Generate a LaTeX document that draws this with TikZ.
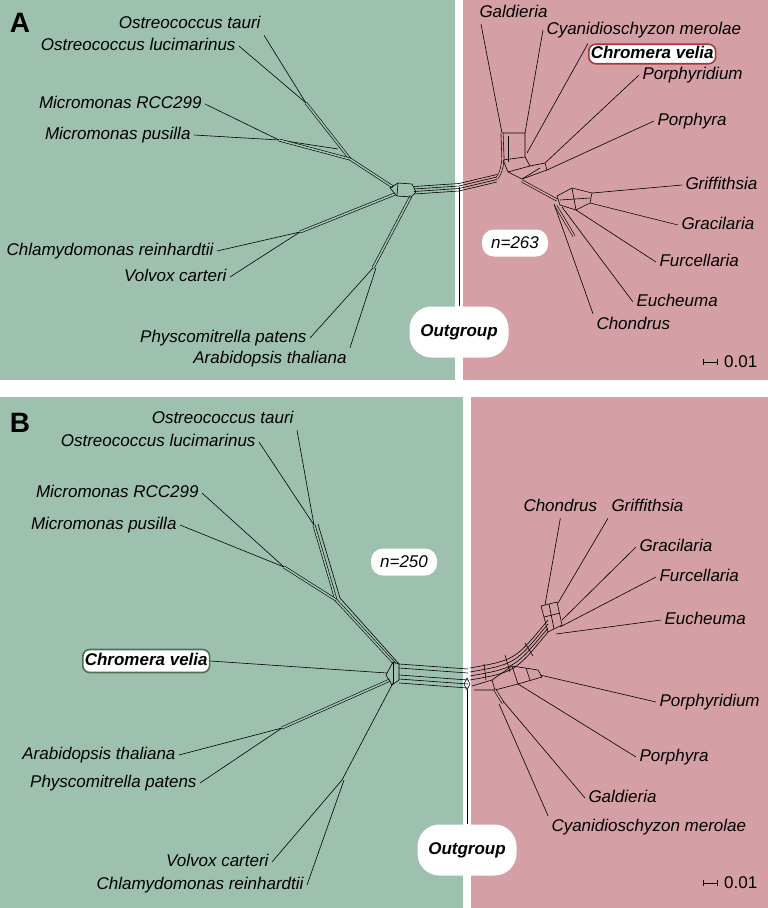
\documentclass[tikz,border=0pt]{standalone}
\usepackage{fontspec}
\setmainfont{Liberation Sans}
\usetikzlibrary{positioning}
\definecolor{gbg}{HTML}{9EC1AF}
\definecolor{rbg}{HTML}{D4A0A6}
\definecolor{cvred}{HTML}{A8373C}
\definecolor{cvgreen}{HTML}{4F6E52}
\tikzset{taxon/.style={font=\itshape\fontsize{17}{19}\selectfont, inner sep=1pt,
    outer sep=2.5pt, text height=12pt, text depth=3.5pt}}
\tikzset{net/.style={draw=black, line width=0.6pt}}

\begin{document}
\begin{tikzpicture}[x=1pt, y=-1pt,
    bandG/.style = {net, double=gbg, double distance=1.6pt},
    bandR/.style = {net, double=rbg, double distance=1.6pt},
    tag/.style = {fill=white, rounded corners=12pt, font=\itshape\fontsize{17}{19}\selectfont,
      minimum width=66pt, minimum height=27pt},
    outbox/.style = {fill=white, rounded corners=22pt, font=\bfseries\itshape\fontsize{17}{19}\selectfont,
      minimum width=99pt, minimum height=51pt},
    chrom/.style = {fill=white, line width=1.6pt, rounded corners=7pt, inner sep=2pt,
      font=\bfseries\itshape\fontsize{17}{19}\selectfont, text height=12pt, text depth=3.5pt},
    panel/.style = {font=\bfseries\fontsize{28}{30}\selectfont, inner sep=0pt},
    scalebar/.style = {draw=black, line width=0.6pt, |-|}]
  \useasboundingbox (0,0) rectangle (768,908);
  \fill[white] (0,0) rectangle (768,908);
  \fill[gbg] (0,0) rectangle (455,380);
  \fill[rbg] (463,0) rectangle (768,380);
  \fill[gbg] (0,397) rectangle (463,908);
  \fill[rbg] (471,397) rectangle (768,908);

  % ---------------- panel A
  \node[panel] at (20,23) {A};
  \node[taxon, anchor=east] (OtA) at (264,24) {Ostreococcus tauri};
  \node[taxon, anchor=east] (OlA) at (239,46) {Ostreococcus lucimarinus};
  \node[taxon, anchor=east] (MrA) at (205,104) {Micromonas RCC299};
  \node[taxon, anchor=east] (MpA) at (194,135) {Micromonas pusilla};
  \node[taxon, anchor=east] (ChA) at (217,251) {Chlamydomonas reinhardtii};
  \node[taxon, anchor=east] (VcA) at (230,277) {Volvox carteri};
  \node[taxon, anchor=east] (PpA) at (310,338) {Physcomitrella patens};
  \node[taxon, anchor=east] (AtA) at (350,359) {Arabidopsis thaliana};
  \node[taxon, anchor=west] (GaA) at (476,13) {Galdieria};
  \node[taxon, anchor=west] (CyA) at (543,30) {Cyanidioschyzon merolae};
  \node[chrom, draw=cvred, anchor=west] (CvA) at (588,54) {Chromera velia};
  \node[taxon, anchor=west] (PdA) at (639,75) {Porphyridium};
  \node[taxon, anchor=west] (PyA) at (654,121) {Porphyra};
  \node[taxon, anchor=west] (GrA) at (682,185) {Griffithsia};
  \node[taxon, anchor=west] (GcA) at (678,225) {Gracilaria};
  \node[taxon, anchor=west] (FuA) at (656,262) {Furcellaria};
  \node[taxon, anchor=west] (EuA) at (633,302) {Eucheuma};
  \node[taxon, anchor=west] (CoA) at (593,325) {Chondrus};
  \node[tag] (nA) at (515,243) {n=263};
  \node[outbox] (outA) at (459,332) {Outgroup};
  \coordinate (sA1) at (703,362);
  \coordinate (sA2) at (718,362);
  \draw[scalebar] (sA1) -- (sA2);
  \node[font=\fontsize{17}{19}\selectfont, anchor=west, inner sep=0pt] (scA) at (724,362) {0.01};

  \coordinate (oA) at (306,103);
  \coordinate (mA) at (279,140);
  \coordinate (kA) at (350,159);
  \coordinate (hA) at (393,187);
  \coordinate (cA) at (300,232);
  \coordinate (hA2) at (395,194);
  \coordinate (pA) at (373,268);
  \coordinate (hA3) at (411,196);
  \coordinate (hA4) at (414,190);
  \coordinate (jA) at (459,187);
  \coordinate (rA) at (497,178);
  \draw[net] (OtA.south east) -- (oA);
  \draw[net] (OlA.east) -- (oA);
  \draw[bandG] (oA) -- (kA);
  \draw[net] (MrA.east) -- (mA);
  \draw[net] (MpA.east) -- (mA);
  \draw[net] (mA) -- (338,149);
  \draw[bandG] (mA) -- (kA);
  \draw[bandG] (kA) -- (hA);
  \draw[net] (ChA.east) -- (cA);
  \draw[net] (VcA.east) -- (cA);
  \draw[bandG] (cA) -- (hA2);
  \draw[net] (PpA.east) -- (pA);
  \draw[net] (AtA.north east) -- ([xshift=3pt]pA);
  \draw[bandG] (pA) -- (hA3);
  \draw[net] (390,188) -- (398,183) -- (412,184) -- (416,192) -- (411,197) -- (397,196) -- cycle;
  \draw[net] (398,183) -- (397,196);
  \foreach \d in {-4,-1.5,1,3.5}
    \draw[net] ([yshift=\d pt]hA4) -- ([yshift=\d pt]jA) -- ([yshift=\d pt]rA);
  \draw[net] (jA) -- (outA.north);

  \coordinate (gaA1) at (502,133);
  \coordinate (gaA2) at (525,133);
  \coordinate (gaA3) at (525,157);
  \coordinate (gaA4) at (503,160);
  \coordinate (pjA) at (545,163);
  \coordinate (pjA2) at (547,170);
  \draw[bandR] (rA) .. controls (501,172) .. (gaA4) -- (gaA1);
  \draw[net] (gaA1) -- (gaA2) -- (gaA3) -- (gaA4);
  \draw[net] (508,136) -- (508,162);
  \draw[net] (gaA4) -- (508,172) -- (522,179) -- (pjA2);
  \draw[net] (gaA3) -- (530,166) -- (pjA);
  \draw[net] (508,172) -- (530,166) (522,179) -- (540,168) (pjA) -- (pjA2);
  \draw[net] ([xshift=5pt]GaA.south west) -- (gaA1);
  \draw[net] (CyA.west) -- (gaA2);
  \draw[net] (CvA.north west) -- (527,153);
  \draw[net] (PdA.west) -- (pjA);
  \draw[net] (PyA.west) -- (pjA2);
  \draw[bandR] (522,181) -- (557,200);
  \draw[net] (557,196) -- (572,188) -- (592,193) -- (590,203) -- (576,210) -- (560,205) -- cycle;
  \draw[net] (572,188) -- (576,210) (560,200) -- (590,198);
  \draw[net] (GrA.west) -- (592,193);
  \draw[net] (GcA.west) -- (590,203);
  \draw[net] (FuA.west) -- (576,210);
  \draw[bandR] (556,206) -- (574,236);
  \draw[net] (CoA.north west) -- (554,204);
  \draw[net] (EuA.west) -- (562,207);

  % ---------------- panel B
  \node[panel] at (20,423) {B};
  \node[taxon, anchor=east] (OtB) at (297,419) {Ostreococcus tauri};
  \node[taxon, anchor=east] (OlB) at (259,442) {Ostreococcus lucimarinus};
  \node[taxon, anchor=east] (MrB) at (202,493) {Micromonas RCC299};
  \node[taxon, anchor=east] (MpB) at (180,525) {Micromonas pusilla};
  \node[chrom, draw=cvgreen, minimum height=23pt, anchor=west] (CvB) at (82,661) {Chromera velia};
  \node[taxon, anchor=east] (AtB) at (179,755) {Arabidopsis thaliana};
  \node[taxon, anchor=east] (PpB) at (200,783) {Physcomitrella patens};
  \node[taxon, anchor=east] (VcB) at (272,862) {Volvox carteri};
  \node[taxon, anchor=east] (ChB) at (307,885) {Chlamydomonas reinhardtii};
  \node[taxon, anchor=west] (CoB) at (520,507) {Chondrus};
  \node[taxon, anchor=west] (GrB) at (608,507) {Griffithsia};
  \node[taxon, anchor=west] (GcB) at (636,547) {Gracilaria};
  \node[taxon, anchor=west] (FuB) at (656,577) {Furcellaria};
  \node[taxon, anchor=west] (EuB) at (661,620) {Eucheuma};
  \node[taxon, anchor=west] (PdB) at (656,702) {Porphyridium};
  \node[taxon, anchor=west] (PyB) at (636,757) {Porphyra};
  \node[taxon, anchor=west] (GaB) at (585,798) {Galdieria};
  \node[taxon, anchor=west] (CyB) at (548,827) {Cyanidioschyzon merolae};
  \node[tag] (nB) at (404,562) {n=250};
  \node[outbox] (outB) at (467,850) {Outgroup};
  \coordinate (sB1) at (703,883);
  \coordinate (sB2) at (718,883);
  \draw[scalebar] (sB1) -- (sB2);
  \node[font=\fontsize{17}{19}\selectfont, anchor=west, inner sep=0pt] (scB) at (724,883) {0.01};

  \coordinate (oB) at (314,525);
  \coordinate (mB) at (284,567);
  \coordinate (kB) at (336,600);
  \coordinate (hB) at (395,664);
  \coordinate (apB) at (282,728);
  \coordinate (cvB) at (342,780);
  \coordinate (jB) at (468,669);
  \draw[net] (OtB.south east) -- (oB);
  \draw[net] (OlB.east) -- (oB);
  \draw[bandG] (oB) -- (kB);
  \draw[net] (318,524) -- (340,598);
  \draw[net] (MrB.east) -- (mB);
  \draw[net] (MpB.east) -- (mB);
  \draw[bandG] (mB) -- (kB);
  \draw[bandG] (kB) -- (hB);
  \draw[net] (340,598) -- (399,664);
  \draw[net] (CvB.east) -- (387,673);
  \draw[net] (AtB.east) -- (apB);
  \draw[net] (PpB.east) -- (apB);
  \draw[bandG] (apB) -- (390,680);
  \draw[net] (VcB.east) -- (cvB);
  \draw[net] (ChB.east) -- ([xshift=2pt]cvB);
  \draw[net] (cvB) -- (393,683);
  \draw[net] (386,675) -- (393,662) -- (399,664) -- (399,680) -- (392,685) -- (386,675);
  \draw[net] (393,662) -- (393,684);
  \foreach \d in {0,4,11,15,19}
    \draw[net] ([yshift=-\d pt]399,664) -- ([yshift=-\d pt]jB);
  \draw[net] (467,678) -- (470,684) -- (467,690) -- (464,684) -- cycle;
  \draw[net] (467,690) -- (outB.north);

  \coordinate (rB1) at (470,668);
  \coordinate (rB2) at (515,660);
  \coordinate (rB3) at (548,620);
  \foreach \d in {0,4,8,12}
    \draw[net] ([yshift=-\d pt]rB1) .. controls ([yshift=-\d pt]rB2) .. ([yshift=-\d pt]rB3);
  \draw[net] (484,664) -- (486,680) (505,655) -- (510,672) (525,643) -- (533,656);
  \draw[net] (541,606) -- (557,602) -- (562,625) -- (548,632) -- cycle;
  \draw[net] (544,617) -- (560,613) (549,604) -- (554,629);
  \draw[net] (CoB.south) -- (545,605);
  \draw[net] (GrB.south west) -- (558,603);
  \draw[net] (GcB.west) -- (562,620);
  \draw[net] (FuB.west) -- (560,627);
  \draw[net] (EuB.west) -- (556,634);
  \draw[net] (472,686) -- (492,680) -- (512,666) -- (538,670) -- (542,677) -- (518,684) -- (495,690) -- (474,690);
  \draw[net] (512,666) -- (518,684) (492,680) -- (495,690) (526,668) -- (530,680);
  \draw[net] (PdB.west) -- (540,675);
  \draw[net] (PyB.west) -- (518,684);
  \draw[bandR] (495,690) -- (503,703);
  \draw[net] (GaB.west) -- (503,701);
  \draw[net] (CyB.north west) -- (499,704);
\end{tikzpicture}
\end{document}
